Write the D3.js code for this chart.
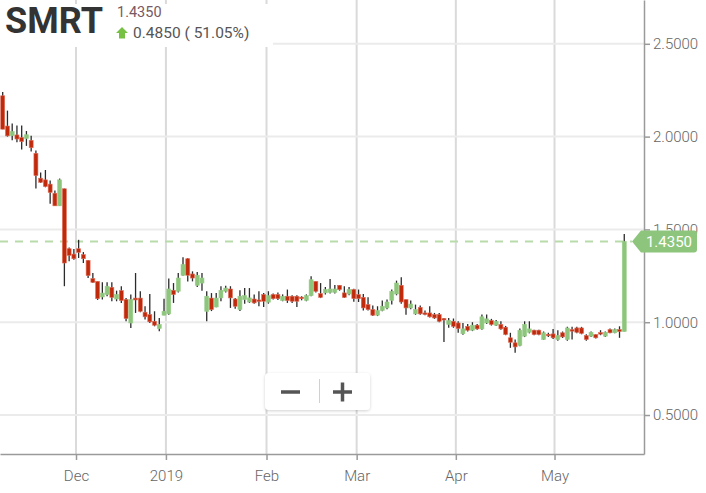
<!DOCTYPE html>
<html>
<head>
<meta charset="utf-8">
<script src="https://cdn.jsdelivr.net/npm/d3@7"></script>
<style>
  body { margin: 0; background: #fff; }
  svg { display: block; font-family: Roboto, "Open Sans", sans-serif; }
</style>
</head>
<body>
<div id="chart"></div>
<script>
// daily candles, oldest first
var opens = [2.22,2.057,2.005,2.009,1.995,1.99,1.98,1.91,1.776,1.767,1.744,1.695,1.627,1.719,1.396,1.367,1.396,1.364,1.333,1.235,
  1.22,1.136,1.149,1.188,1.125,1.17,1.122,0.996,1.13,1.13,1.054,1.041,1.005,0.966,1.038,1.045,1.172,1.167,1.253,1.342,
  1.26,1.199,1.211,1.059,1.13,1.082,1.131,1.167,1.179,1.125,1.068,1.122,1.109,1.125,1.12,1.149,1.108,1.149,1.149,1.117,
  1.14,1.14,1.14,1.135,1.118,1.143,1.22,1.154,1.158,1.161,1.161,1.199,1.158,1.152,1.176,1.149,1.134,1.095,1.068,1.038,
  1.063,1.077,1.118,1.152,1.199,1.122,1.077,1.045,1.08,1.05,1.05,1.041,1.041,1.02,0.988,1.005,0.996,0.938,0.978,0.957,
  0.984,0.964,0.996,1.009,0.984,0.988,0.973,0.916,0.889,0.875,0.925,0.946,0.957,0.957,0.907,0.935,0.937,0.907,0.943,0.907,
  0.96,0.969,0.969,0.928,0.925,0.933,0.944,0.925,0.96,0.943,0.96,0.95];
var highs = [2.24,2.14,2.07,2.06,2.06,2.03,2.005,1.925,1.806,1.82,1.763,1.71,1.774,1.72,1.403,1.394,1.444,1.378,1.335,1.265,
  1.22,1.215,1.215,1.215,1.17,1.194,1.13,1.15,1.265,1.167,1.086,1.152,1.059,1.023,1.127,1.235,1.211,1.265,1.35,1.346,
  1.274,1.271,1.265,1.167,1.157,1.157,1.194,1.197,1.194,1.131,1.172,1.184,1.184,1.15,1.167,1.157,1.167,1.155,1.16,1.15,
  1.176,1.145,1.145,1.14,1.15,1.247,1.22,1.211,1.19,1.233,1.2,1.2,1.194,1.19,1.18,1.176,1.152,1.134,1.09,1.086,
  1.117,1.122,1.176,1.224,1.242,1.122,1.117,1.095,1.09,1.063,1.086,1.05,1.05,1.023,1.023,1.02,1.005,0.996,0.99,1.0,
  0.99,1.041,1.041,1.018,1.012,1.005,0.98,0.943,0.907,0.966,1.005,1.005,0.96,0.96,0.95,0.943,0.964,0.957,0.95,0.975,
  0.975,0.975,0.975,0.935,0.95,0.935,0.957,0.95,0.966,0.966,0.978,1.475];
var lows = [2.04,2.0,1.98,1.97,1.93,1.95,1.92,1.72,1.75,1.727,1.638,1.627,1.627,1.194,1.328,1.337,1.346,1.319,1.238,1.211,
  1.12,1.122,1.14,1.113,1.113,1.104,1.005,0.969,1.05,1.054,1.014,0.996,0.978,0.952,1.038,1.04,1.104,1.16,1.25,1.22,
  1.22,1.19,1.17,1.005,1.06,1.08,1.113,1.16,1.077,1.072,1.06,1.1,1.104,1.1,1.086,1.082,1.1,1.122,1.12,1.113,
  1.104,1.104,1.082,1.118,1.113,1.14,1.16,1.13,1.15,1.155,1.155,1.17,1.13,1.145,1.11,1.109,1.063,1.063,1.033,1.033,
  1.059,1.07,1.095,1.145,1.1,1.04,1.07,1.04,1.04,1.038,1.025,1.018,1.0,0.894,0.97,0.97,0.943,0.932,0.95,0.952,
  0.96,0.96,0.99,0.982,0.98,0.96,0.93,0.862,0.835,0.87,0.92,0.94,0.93,0.93,0.905,0.92,0.91,0.9,0.915,0.9,
  0.907,0.94,0.935,0.9,0.92,0.912,0.93,0.92,0.94,0.94,0.916,0.95];
var closes = [2.04,2.004,2.027,1.987,1.973,2.01,1.94,1.79,1.754,1.731,1.699,1.627,1.767,1.319,1.36,1.342,1.376,1.342,1.251,1.215,
  1.127,1.157,1.194,1.134,1.149,1.117,1.02,1.122,1.12,1.059,1.029,1.002,0.984,0.988,1.059,1.179,1.149,1.238,1.31,1.253,
  1.238,1.253,1.238,1.14,1.068,1.13,1.172,1.184,1.131,1.086,1.14,1.143,1.131,1.104,1.118,1.113,1.143,1.127,1.127,1.14,
  1.117,1.113,1.113,1.127,1.143,1.229,1.167,1.134,1.176,1.179,1.179,1.176,1.134,1.176,1.127,1.127,1.077,1.068,1.038,1.063,
  1.086,1.109,1.167,1.211,1.109,1.077,1.098,1.068,1.045,1.045,1.029,1.023,1.005,1.012,1.009,0.978,0.966,0.964,0.957,0.984,
  0.964,1.029,1.018,0.988,1.005,0.964,0.934,0.892,0.867,0.957,0.988,0.964,0.934,0.934,0.943,0.93,0.916,0.928,0.921,0.969,
  0.955,0.946,0.94,0.907,0.946,0.916,0.94,0.946,0.943,0.96,0.95,1.435];

// month gridlines, given as position in trading-day index
var monthLabels = ["Dec","2019","Feb","Mar","Apr","May"];
var monthPos = [15.45,34.4,55.6,74.6,95.5,116.3];
var yTicks = [0.5,1.0,1.5,2.0,2.5];

var symbol = "SMRT";
var lastPrice = 1.435;
var change = 0.485;
var changePct = 51.05;

var W = 706, H = 493;
var plotR = 644, plotB = 454;

var data = closes.map(function(c,i){
    return {i:i, o:opens[i], h:highs[i], l:lows[i], c:c};
});

var x = d3.scaleLinear().domain([-0.57, 135.16]).range([0, plotR]);
var y = d3.scaleLinear().domain([0.29, 2.736]).range([plotB, 0]);

var svg = d3.select("#chart").append("svg")
    .attr("width", W).attr("height", H);

svg.append("rect").attr("width", W).attr("height", H).attr("fill", "#fff");

// grid
svg.append("g").selectAll("line")
    .data(monthPos).enter().append("line")
    .attr("x1", function(d){ return x(d); })
    .attr("x2", function(d){ return x(d); })
    .attr("y1", 0).attr("y2", plotB)
    .attr("stroke", "#dadada").attr("stroke-width", 2);
svg.append("g").selectAll("line")
    .data(yTicks).enter().append("line")
    .attr("x1", 0).attr("x2", plotR)
    .attr("y1", function(d){ return y(d); })
    .attr("y2", function(d){ return y(d); })
    .attr("stroke", "#ebebeb").attr("stroke-width", 2);

// axes
var yAxis = svg.append("g")
    .attr("transform", "translate(" + plotR + ",0)")
    .call(d3.axisRight(y).tickValues(yTicks).tickFormat(d3.format(".4f"))
        .tickSize(6).tickSizeOuter(0).tickPadding(3));
var xAxis = svg.append("g")
    .attr("transform", "translate(0," + plotB + ")")
    .call(d3.axisBottom(x).tickValues(monthPos)
        .tickFormat(function(d,i){ return monthLabels[i]; })
        .tickSize(6).tickSizeOuter(0).tickPadding(10));
[yAxis, xAxis].forEach(function(a){
    a.select(".domain").attr("stroke", "#9a9a9a").attr("stroke-width", 1.5);
    a.selectAll(".tick line").attr("stroke", "#9a9a9a").attr("stroke-width", 1.5);
    a.selectAll(".tick text").attr("fill", "#666")
        .style("font-size", "15px").style("font-weight", 300)
        .style("font-family", "Roboto, sans-serif");
});

// last price dashed line
svg.append("line")
    .attr("x1", 0).attr("x2", 632)
    .attr("y1", y(lastPrice)).attr("y2", y(lastPrice))
    .attr("stroke", "#b8dba9").attr("stroke-width", 2)
    .attr("stroke-dasharray", "8,7");

// candles
var bw = 4;
var g = svg.append("g");
g.selectAll("line.wick")
    .data(data).enter().append("line")
    .attr("class", "wick")
    .attr("x1", function(d){ return x(d.i); })
    .attr("x2", function(d){ return x(d.i); })
    .attr("y1", function(d){ return y(d.h); })
    .attr("y2", function(d){ return y(d.l); })
    .attr("stroke", "#2b2b2b").attr("stroke-width", 1.3);
g.selectAll("rect.body")
    .data(data).enter().append("rect")
    .attr("class", "body")
    .attr("x", function(d){ return x(d.i) - bw/2; })
    .attr("y", function(d){ return y(Math.max(d.o, d.c)); })
    .attr("width", bw)
    .attr("height", function(d){ return Math.max(1.5, Math.abs(y(d.o) - y(d.c))); })
    .attr("fill", function(d){ return d.c >= d.o ? "#8cc57b" : "#c02a0c"; })
    .attr("stroke", function(d){ return d.c >= d.o ? "#9bcf8b" : "#e0705c"; })
    .attr("stroke-width", 0.6);

// header
svg.append("rect").attr("x", 0).attr("y", 4).attr("width", 273).attr("height", 43)
    .attr("fill", "#fff");
svg.append("text").attr("x", 5).attr("y", 33)
    .style("font-size", "36px").style("font-weight", 700)
    .attr("fill", "#333").text(symbol);
svg.append("text").attr("x", 117).attr("y", 17)
    .style("font-size", "14.5px").attr("fill", "#7a5861")
    .text(d3.format(".4f")(lastPrice));
svg.append("path")
    .attr("d", "M122,27 L128,33 L125,33 L125,38.5 L119,38.5 L119,33 L116,33 Z")
    .attr("fill", "#76c043");
svg.append("text").attr("x", 133).attr("y", 37.5)
    .style("font-size", "15.5px").attr("fill", "#555")
    .text(d3.format(".4f")(change) + " ( " + changePct.toFixed(2) + "%)");

// price tag on the axis
var ty = y(lastPrice);
svg.append("path")
    .attr("d", "M632," + ty + " L641," + (ty - 11) + " L694," + (ty - 11) +
        " Q697," + (ty - 11) + " 697," + (ty - 8) + " L697," + (ty + 8) +
        " Q697," + (ty + 11) + " 694," + (ty + 11) + " L641," + (ty + 11) + " Z")
    .attr("fill", "#8cc57b");
svg.append("text").attr("x", 669).attr("y", ty + 5.5)
    .attr("text-anchor", "middle")
    .style("font-size", "15px").attr("fill", "#fff")
    .text(d3.format(".4f")(lastPrice));

// zoom buttons
var zb = svg.append("g");
var defs = svg.append("defs");
var f = defs.append("filter").attr("id", "sh").attr("x", "-20%").attr("y", "-30%")
    .attr("width", "140%").attr("height", "160%");
f.append("feDropShadow").attr("dx", 0).attr("dy", 1).attr("stdDeviation", 1.5)
    .attr("flood-color", "#000").attr("flood-opacity", 0.18);
zb.append("rect").attr("x", 265).attr("y", 373).attr("width", 105).attr("height", 37)
    .attr("rx", 4).attr("fill", "#fff").attr("filter", "url(#sh)");
zb.append("line").attr("x1", 319.5).attr("x2", 319.5).attr("y1", 379).attr("y2", 403)
    .attr("stroke", "#d0d0d0").attr("stroke-width", 1);
zb.append("line").attr("x1", 281).attr("x2", 300).attr("y1", 392).attr("y2", 392)
    .attr("stroke", "#555").attr("stroke-width", 3.5);
zb.append("line").attr("x1", 333).attr("x2", 352).attr("y1", 392).attr("y2", 392)
    .attr("stroke", "#555").attr("stroke-width", 3.5);
zb.append("line").attr("x1", 342.5).attr("x2", 342.5).attr("y1", 382.5).attr("y2", 401.5)
    .attr("stroke", "#555").attr("stroke-width", 3.5);
</script>
</body>
</html>
